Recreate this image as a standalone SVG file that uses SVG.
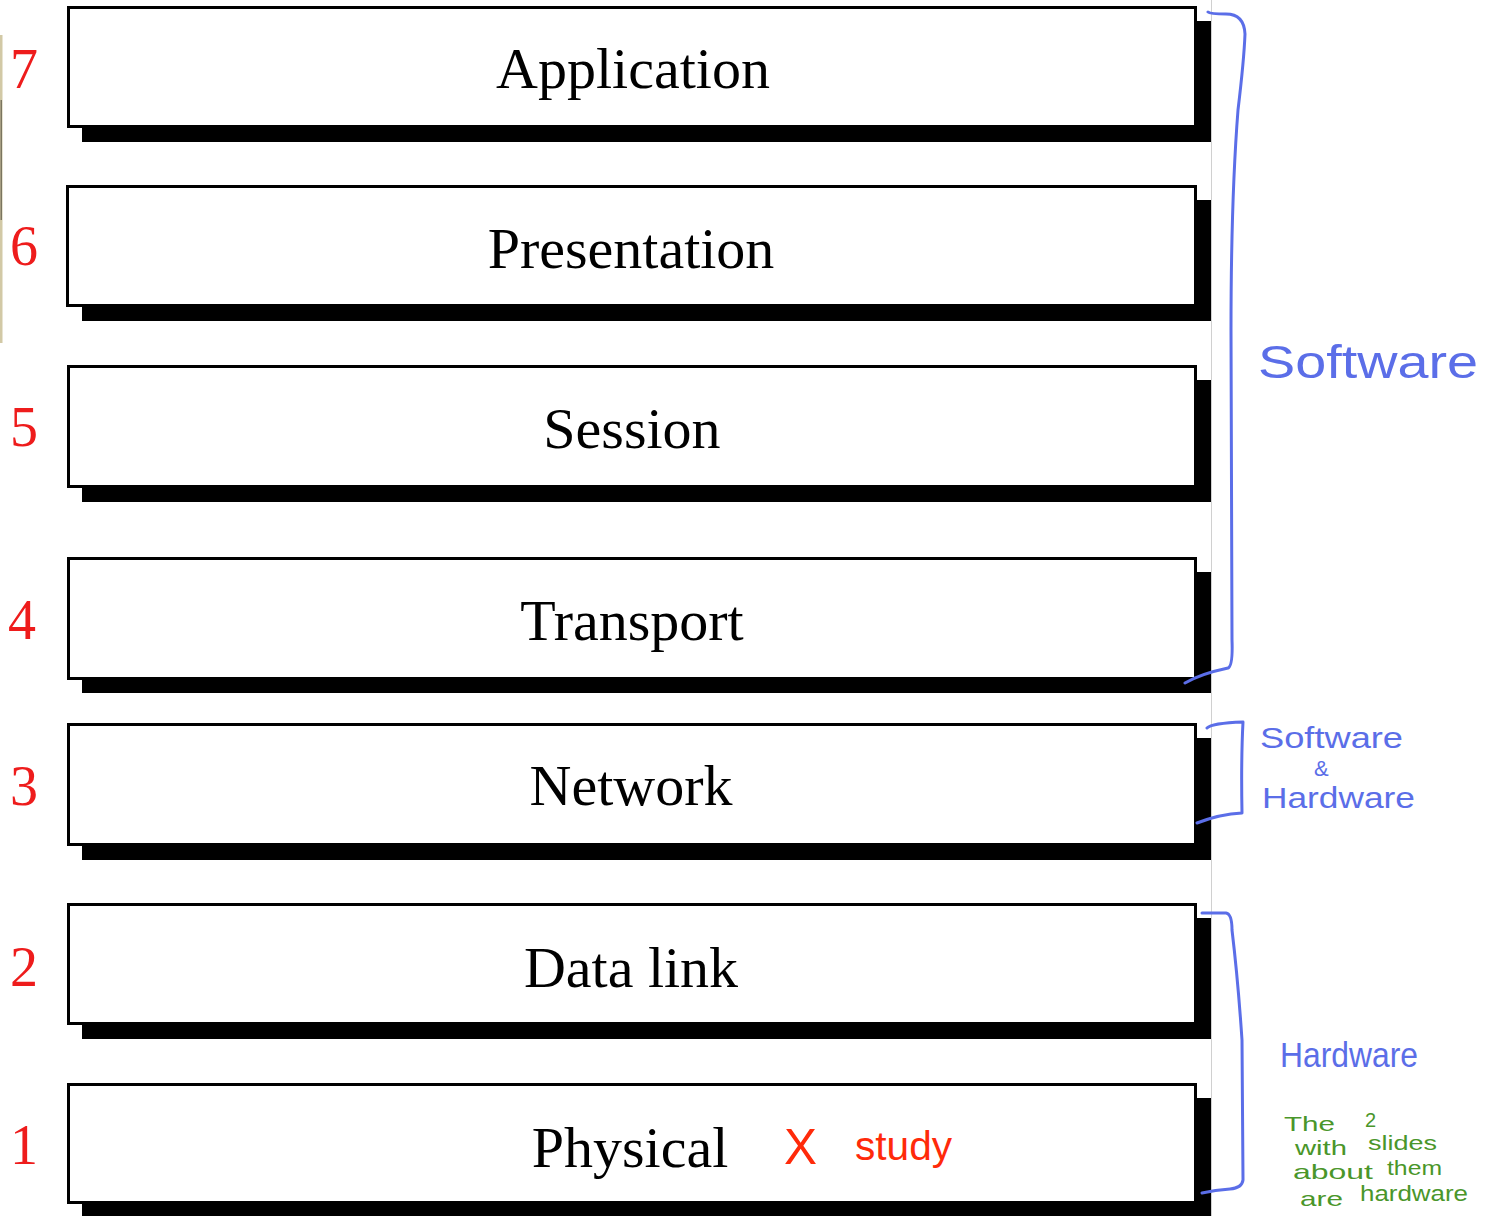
<svg xmlns="http://www.w3.org/2000/svg" width="1495" height="1216" viewBox="0 0 1495 1216">
  <style>
    .shadow { fill: #000; }
    .box { fill: #fff; stroke: #000; stroke-width: 3; }
    .label { font-family: "Liberation Serif", "Times New Roman", serif; font-size: 58px; fill: #000; text-anchor: middle; }
    .num { font-family: "Liberation Serif", "Times New Roman", serif; font-size: 56px; fill: #ee1c1c; }
    .brace { fill: none; stroke: #5b6ee8; stroke-width: 3; stroke-linecap: round; stroke-linejoin: round; }
    .hand { font-family: "Liberation Sans", Arial, sans-serif; font-weight: normal; }
    .blue { fill: #5b6ee8; }
    .green { fill: #4a962a; }
    .red { fill: #ff2a0a; }
  </style>

  <rect width="1495" height="1216" fill="#fff"/>

  <!-- page edges -->
  <rect x="0" y="35" width="2.5" height="308" fill="#d2c9a6"/>
  <rect x="0.5" y="100" width="1.5" height="120" fill="#7a7560"/>
  <line x1="1211.5" y1="0" x2="1211.5" y2="1216" stroke="#d0d0d0" stroke-width="1"/>

  <!-- OSI layers -->
  <g id="layer-7">
    <rect class="shadow" x="82" y="21" width="1129" height="121"/>
    <rect class="box" x="68.5" y="7.5" width="1127" height="119"/>
    <text class="label" x="633" y="88">Application</text>
    <text class="num" x="10" y="88">7</text>
  </g>
  <g id="layer-6">
    <rect class="shadow" x="82" y="200" width="1129" height="121"/>
    <rect class="box" x="67.5" y="186.5" width="1128" height="119"/>
    <text class="label" x="631" y="268">Presentation</text>
    <text class="num" x="10" y="265">6</text>
  </g>
  <g id="layer-5">
    <rect class="shadow" x="82" y="380" width="1129" height="122"/>
    <rect class="box" x="68.5" y="366.5" width="1127" height="120"/>
    <text class="label" x="632" y="448">Session</text>
    <text class="num" x="10" y="446">5</text>
  </g>
  <g id="layer-4">
    <rect class="shadow" x="82" y="572" width="1129" height="121"/>
    <rect class="box" x="68.5" y="558.5" width="1127" height="120"/>
    <text class="label" x="632" y="640">Transport</text>
    <text class="num" x="8" y="639">4</text>
  </g>
  <g id="layer-3">
    <rect class="shadow" x="82" y="738" width="1129" height="122"/>
    <rect class="box" x="68.5" y="724.5" width="1127" height="120"/>
    <text class="label" x="631" y="805">Network</text>
    <text class="num" x="10" y="805">3</text>
  </g>
  <g id="layer-2">
    <rect class="shadow" x="82" y="918" width="1129" height="121"/>
    <rect class="box" x="68.5" y="904.5" width="1127" height="119"/>
    <text class="label" x="631" y="987">Data link</text>
    <text class="num" x="10" y="986">2</text>
  </g>
  <g id="layer-1">
    <rect class="shadow" x="82" y="1098" width="1129" height="130"/>
    <rect class="box" x="68.5" y="1084.5" width="1127" height="118"/>
    <text class="label" x="630" y="1167">Physical</text>
    <text class="num" x="10" y="1164">1</text>
  </g>

  <!-- hand-drawn brackets -->
  <g id="connectors">
    <path class="brace" d="M1208,12 Q1210,14 1226,14 Q1244,14 1245,34 Q1244,60 1238,110 Q1231,200 1231,330 L1232,640 Q1233,666 1228,668 Q1200,674 1185,683"/>
    <path class="brace" d="M1207,728 Q1212,723 1243,722 Q1241,760 1242,813 Q1220,814 1197,823"/>
    <path class="brace" d="M1202,913 L1226,913 Q1232,914 1232,930 Q1238,980 1242,1040 L1243,1180 Q1242,1188 1230,1189 Q1215,1190 1202,1193"/>
  </g>

  <!-- handwritten notes -->
  <g id="note-software">
    <text class="hand blue" x="1258" y="378" font-size="46" textLength="220" lengthAdjust="spacingAndGlyphs">Software</text>
  </g>
  <g id="note-software-hardware">
    <text class="hand blue" x="1260" y="748" font-size="30" textLength="143" lengthAdjust="spacingAndGlyphs">Software</text>
    <text class="hand blue" x="1314" y="776" font-size="22">&amp;</text>
    <text class="hand blue" x="1262" y="808" font-size="30" textLength="153" lengthAdjust="spacingAndGlyphs">Hardware</text>
  </g>
  <g id="note-hardware">
    <text class="hand blue" x="1280" y="1067" font-size="35" textLength="138" lengthAdjust="spacingAndGlyphs">Hardware</text>
  </g>
  <g id="note-slides">
    <text class="hand green" x="1284" y="1131" font-size="21" textLength="51" lengthAdjust="spacingAndGlyphs">The</text>
    <text class="hand green" x="1365" y="1127" font-size="20">2</text>
    <text class="hand green" x="1295" y="1155" font-size="21" textLength="52" lengthAdjust="spacingAndGlyphs">with</text>
    <text class="hand green" x="1368" y="1150" font-size="21" textLength="69" lengthAdjust="spacingAndGlyphs">slides</text>
    <text class="hand green" x="1293" y="1179" font-size="21" textLength="80" lengthAdjust="spacingAndGlyphs">about</text>
    <text class="hand green" x="1387" y="1175" font-size="20" textLength="55" lengthAdjust="spacingAndGlyphs">them</text>
    <text class="hand green" x="1300" y="1206" font-size="21" textLength="43" lengthAdjust="spacingAndGlyphs">are</text>
    <text class="hand green" x="1360" y="1201" font-size="22" textLength="108" lengthAdjust="spacingAndGlyphs">hardware</text>
  </g>
  <g id="note-study">
    <text class="hand red" x="784" y="1164" font-size="50" textLength="33" lengthAdjust="spacingAndGlyphs">X</text>
    <text class="hand red" x="855" y="1160" font-size="40" textLength="97" lengthAdjust="spacingAndGlyphs">study</text>
  </g>
</svg>
